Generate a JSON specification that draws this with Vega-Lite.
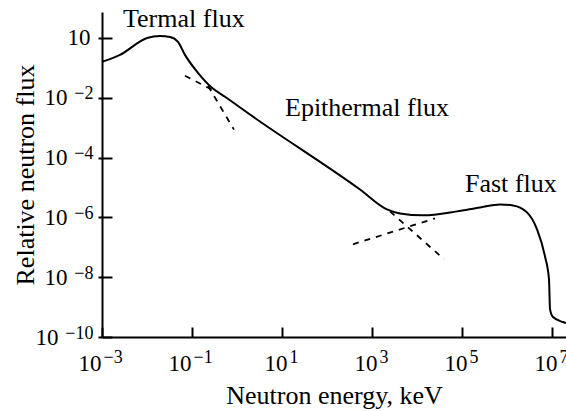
{
  "$schema": "https://vega.github.io/schema/vega-lite/v6.json",
  "width": 464,
  "height": 325,
  "autosize": {"type": "none"},
  "padding": {"left": 102, "top": 12, "right": 0, "bottom": 74},
  "background": "white",
  "config": {
    "view": {"stroke": null},
    "font": "Liberation Serif",
    "axis": {
      "grid": false,
      "domainColor": "black",
      "domainWidth": 2,
      "tickColor": "black",
      "tickWidth": 2,
      "labelFont": "Liberation Serif",
      "labelColor": "black",
      "labelFlush": false,
      "labelOverlap": false,
      "titleFont": "Liberation Serif",
      "titleFontSize": 26,
      "titleFontWeight": "normal",
      "titleColor": "black"
    }
  },
  "datasets": {
    "curve": [
      {"E": 0.001, "F": 0.158},
      {"E": 0.00251, "F": 0.271},
      {"E": 0.01, "F": 1.0},
      {"E": 0.01945, "F": 1.167},
      {"E": 0.03243, "F": 1.079},
      {"E": 0.04887, "F": 0.736},
      {"E": 0.06982, "F": 0.271},
      {"E": 0.1358, "F": 0.0681},
      {"E": 0.278, "F": 0.02153},
      {"E": 0.541, "F": 0.01079},
      {"E": 2.27, "F": 0.002328},
      {"E": 540.8, "F": 0.00000857},
      {"E": 2153, "F": 0.000001849},
      {"E": 4188, "F": 0.000001358},
      {"E": 13580, "F": 0.000001167},
      {"E": 77446, "F": 0.000001585},
      {"E": 251189, "F": 0.000002153},
      {"E": 698232, "F": 0.00000271},
      {"E": 1358000, "F": 0.000002512},
      {"E": 2780000, "F": 0.000001469},
      {"E": 4645000, "F": 0.000000398},
      {"E": 6982000, "F": 0.0000000501},
      {"E": 8570000, "F": 0.00000000857},
      {"E": 9036000, "F": 0.000000000857},
      {"E": 10520000, "F": 0.0000000004645},
      {"E": 17540000, "F": 0.0000000003162},
      {"E": 20460000, "F": 0.000000000293}
    ],
    "dashed": [
      {"seg": "epi-left", "E": 0.0698, "F": 0.0541},
      {"seg": "epi-left", "E": 0.278, "F": 0.01849},
      {"seg": "maxwell", "E": 0.227, "F": 0.0251},
      {"seg": "maxwell", "E": 0.857, "F": 0.000857},
      {"seg": "epi-right", "E": 2512, "F": 0.000001585},
      {"seg": "epi-right", "E": 39811, "F": 0.0000000398},
      {"seg": "fast-left", "E": 378.4, "F": 0.0000001259},
      {"seg": "fast-left", "E": 25119, "F": 0.000000926}
    ],
    "labels": [
      {"text": "Termal flux", "E": 0.00293, "F": 2.33},
      {"text": "Epithermal flux", "E": 11.66, "F": 0.002417},
      {"text": "Fast flux", "E": 116600, "F": 0.00000681}
    ]
  },
  "layer": [
    {
      "data": {"name": "curve"},
      "mark": {"type": "line", "color": "black", "strokeWidth": 2, "interpolate": "monotone", "clip": true},
      "encoding": {
        "x": {
          "field": "E",
          "type": "quantitative",
          "scale": {"type": "log", "domain": [0.001, 20470000], "nice": false, "zero": false},
          "axis": {
            "orient": "bottom",
            "title": "Neutron energy, keV",
            "values": [0.001, 0.1, 10, 1000, 100000, 10000000],
            "labelExpr": "'10'",
            "labelFontSize": 23,
            "labelAlign": "right",
            "labelBaseline": "alphabetic",
            "labelOffset": {"condition": {"test": "datum.value > 1", "value": 5}, "value": -1},
            "tickSize": -10,
            "labelPadding": 43,
            "titleBaseline": "alphabetic",
            "titleY": 66
          }
        },
        "y": {
          "field": "F",
          "type": "quantitative",
          "scale": {"type": "log", "domain": [1e-10, 7.356], "nice": false, "zero": false},
          "axis": {
            "orient": "left",
            "title": "Relative neutron flux",
            "values": [1e-10, 1e-8, 1e-6, 1e-4, 1e-2, 1],
            "labelExpr": "'10'",
            "labelFontSize": 23,
            "tickSize": -10,
            "labelPadding": {"condition": [{"test": "datum.value > 0.1", "value": 22}, {"test": "datum.value < 0.000000001", "value": 54}], "value": 45},
            "titleBaseline": "alphabetic",
            "titleX": -69
          }
        }
      }
    },
    {
      "data": {"name": "dashed"},
      "mark": {"type": "line", "color": "black", "strokeWidth": 1.8, "strokeDash": [6, 6]},
      "encoding": {
        "detail": {"field": "seg"},
        "x": {
          "field": "E",
          "type": "quantitative",
          "scale": {"type": "log", "domain": [0.001, 20470000], "nice": false, "zero": false},
          "axis": {
            "orient": "bottom",
            "title": null,
            "domain": false,
            "values": [0.001, 0.1, 10, 1000, 100000, 10000000],
            "labelExpr": "datum.value < 0.01 ? '−3' : datum.value < 1 ? '−1' : datum.value < 100 ? '1' : datum.value < 10000 ? '3' : datum.value < 1000000 ? '5' : '7'",
            "labelFontSize": 18,
            "labelAlign": "left",
            "labelBaseline": "alphabetic",
            "labelOffset": {"condition": {"test": "datum.value > 1", "value": 7}, "value": 1},
            "tickSize": 0,
            "tickOpacity": 0,
            "labelPadding": 25
          }
        },
        "y": {
          "field": "F",
          "type": "quantitative",
          "scale": {"type": "log", "domain": [1e-10, 7.356], "nice": false, "zero": false},
          "axis": {
            "orient": "left",
            "title": null,
            "domain": false,
            "values": [1e-10, 1e-8, 1e-6, 1e-4, 1e-2, 1],
            "labelExpr": "datum.value > 0.1 ? '' : datum.value > 0.001 ? '−2' : datum.value > 0.00001 ? '−4' : datum.value > 0.0000001 ? '−6' : datum.value > 0.000000001 ? '−8' : '−10'",
            "labelFontSize": 18,
            "labelAlign": "right",
            "labelOffset": -4,
            "tickSize": 4,
            "labelPadding": 5
          }
        }
      }
    },
    {
      "data": {"name": "labels"},
      "mark": {"type": "text", "align": "left", "baseline": "alphabetic", "font": "Liberation Serif", "fontSize": 26, "color": "black"},
      "encoding": {
        "text": {"field": "text"},
        "x": {"field": "E", "type": "quantitative", "scale": {"type": "log", "domain": [0.001, 20470000], "nice": false, "zero": false}, "axis": null},
        "y": {"field": "F", "type": "quantitative", "scale": {"type": "log", "domain": [1e-10, 7.356], "nice": false, "zero": false}, "axis": null}
      }
    }
  ],
  "resolve": {"axis": {"x": "independent", "y": "independent"}}
}
